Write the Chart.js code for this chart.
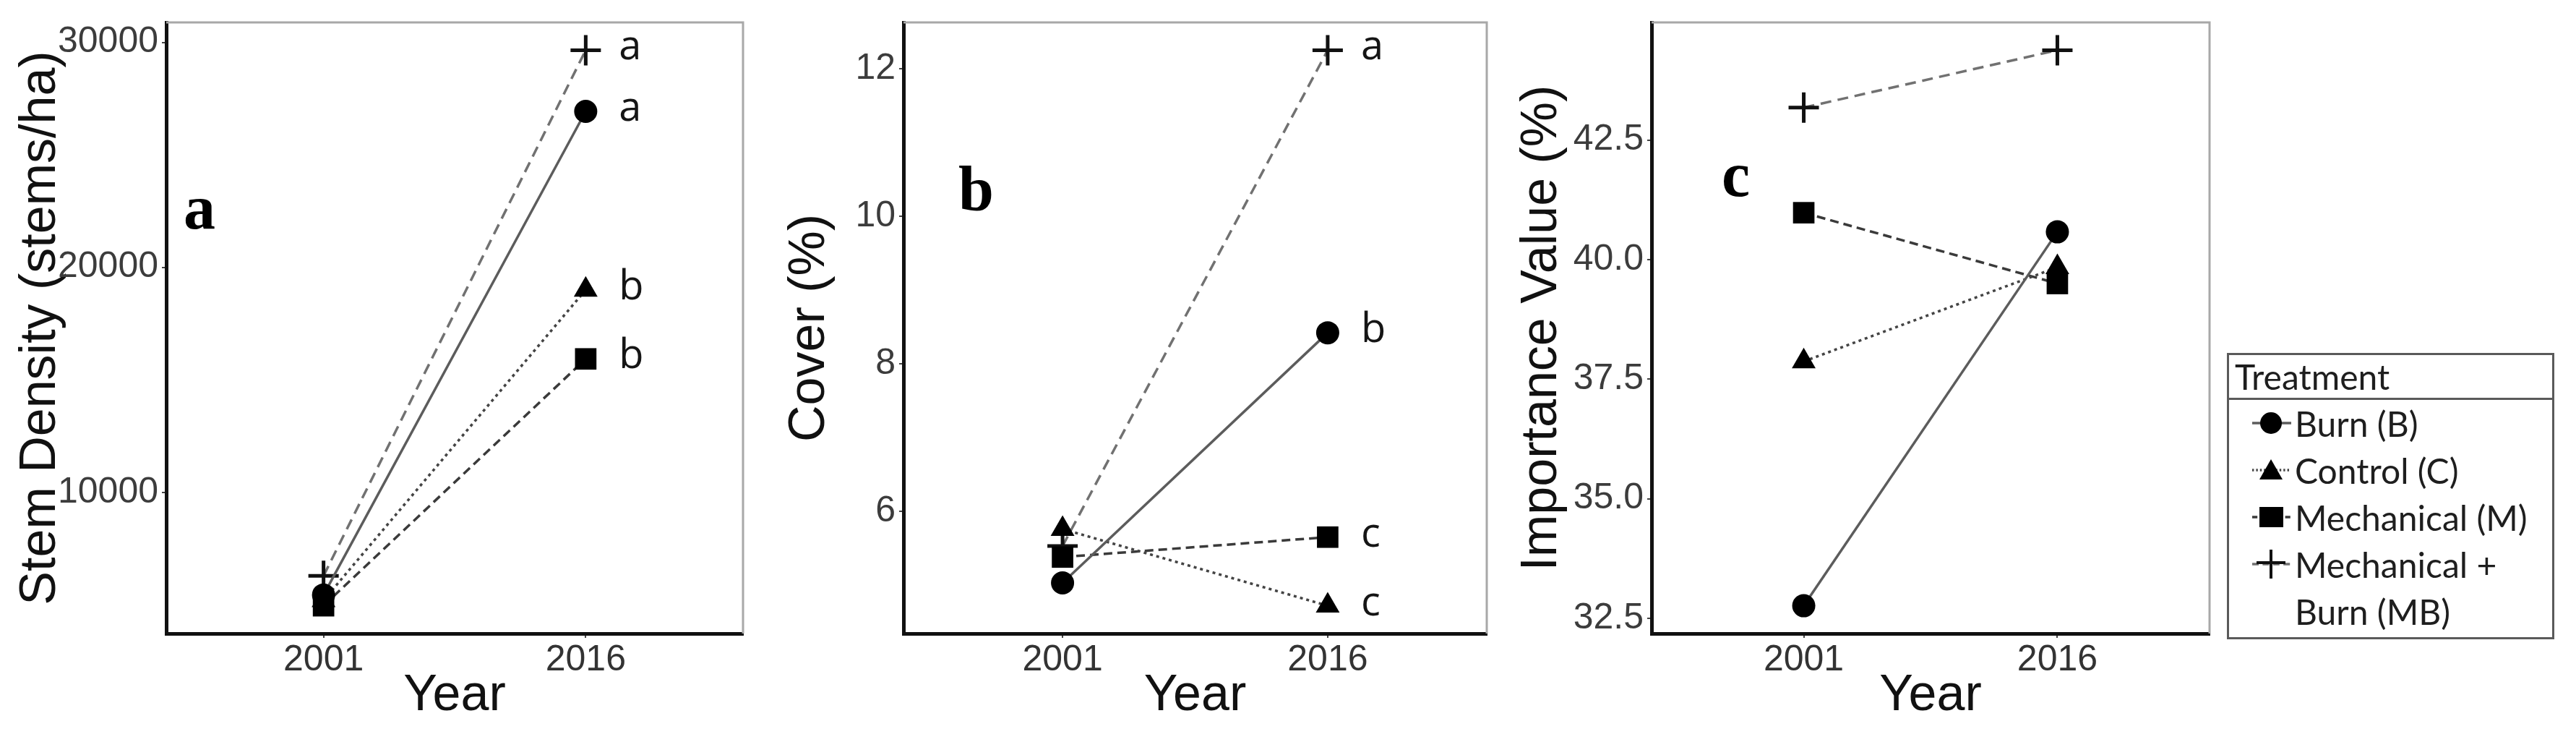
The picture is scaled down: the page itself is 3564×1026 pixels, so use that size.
<!DOCTYPE html>
<html>
<head>
<meta charset="utf-8">
<script src="https://cdn.jsdelivr.net/npm/chart.js@4.4.1/dist/chart.umd.min.js"></script>
<style>
  html, body { margin: 0; padding: 0; background: #fff; }
  body { width: 3564px; height: 1026px; position: relative; overflow: hidden; }
  canvas { position: absolute; top: 0; }
  #stemChart { left: 0; }
  #coverChart { left: 1060px; }
  #ivChart { left: 2090px; }
  #legend {
    position: absolute; left: 3081px; top: 488px;
    width: 447px; height: 390px;
    border: 3px solid #5a5a5a;
    font-family: Lato, 'Open Sans', sans-serif; color: #1e1e1e;
  }
  #legend .title {
    height: 59px; line-height: 59px; font-size: 48px;
    padding-left: 8px; border-bottom: 3px solid #5a5a5a;
  }
  #legend .item {
    position: relative; padding-left: 91px;
    font-size: 48px; line-height: 65px; white-space: pre-line;
  }
  #legend svg { position: absolute; left: 32px; top: 12px; }
</style>
</head>
<body>
<canvas id="stemChart" width="1060" height="1026"></canvas>
<canvas id="coverChart" width="1030" height="1026"></canvas>
<canvas id="ivChart" width="1000" height="1026"></canvas>
<div id="legend"><div class="title">Treatment</div></div>

<script>
// years and treatments
const years = [2001, 2016];
const treatments = ['Burn (B)', 'Control (C)', 'Mechanical (M)', 'Mechanical + Burn (MB)'];

// (a) stem density, stems/ha
const stemBurn = [5440, 26930];
const stemControl = [5200, 19000];
const stemMech = [4960, 15930];
const stemMB = [6290, 29650];
const stemLetters = ['a', 'b', 'b', 'a'];
const stemTicks = [10000, 20000, 30000];

// (b) cover, %
const coverBurn = [5.03, 8.42];
const coverControl = [5.76, 4.72];
const coverMech = [5.38, 5.65];
const coverMB = [5.53, 12.25];
const coverLetters = ['b', 'c', 'c', 'a'];
const coverTicks = [6, 8, 10, 12];

// (c) importance value, %
const ivBurn = [32.76, 40.58];
const ivControl = [37.87, 39.84];
const ivMech = [40.98, 39.50];
const ivMB = [43.18, 44.38];
const ivTicks = [32.5, 35.0, 37.5, 40.0, 42.5];

// one look per treatment
const looks = [
  { shape: 'circle',   radius: 16, dash: [],       color: '#5c5c5c' },
  { shape: 'triangle', radius: 19, dash: [4, 5],   color: '#444' },
  { shape: 'rect',     radius: 21, dash: [12, 7],  color: '#3a3a3a' },
  { shape: 'cross',    radius: 21, dash: [15, 9],  color: '#717171' }
];

const sans = "'Liberation Sans', Arial, sans-serif";
const narrow = "'Liberation Sans Narrow', 'Arial Narrow', 'Liberation Sans', sans-serif";

function series(values, i) {
  const s = looks[i];
  return {
    label: treatments[i],
    data: years.map((yr, k) => ({ x: yr, y: values[k] })),
    borderColor: s.color,
    borderWidth: 3.5,
    borderDash: s.dash,
    pointStyle: s.shape,
    pointRadius: s.radius,
    pointBackgroundColor: '#000',
    pointBorderColor: '#111',
    pointBorderWidth: s.shape === 'cross' ? 5 : 0,
    tension: 0,
    fill: false
  };
}

// ggplot-like 5% expansion
function range(sets) {
  const all = sets.flat();
  const lo = Math.min(...all), hi = Math.max(...all);
  const pad = (hi - lo) * 0.05;
  return { min: lo - pad, max: hi + pad };
}

// grey top/right border of the panel
const frame = {
  id: 'frame',
  beforeDatasetsDraw(chart) {
    const { ctx, chartArea: a } = chart;
    ctx.save();
    ctx.strokeStyle = '#a8a8a8';
    ctx.lineWidth = 3;
    ctx.beginPath();
    ctx.moveTo(a.left, a.top);
    ctx.lineTo(a.right, a.top);
    ctx.lineTo(a.right, a.bottom);
    ctx.stroke();
    ctx.restore();
  }
};

// panel letter and significance letters
const marks = {
  id: 'marks',
  afterDatasetsDraw(chart, args, o) {
    const { ctx, chartArea: a } = chart;
    ctx.save();
    ctx.fillStyle = '#000';
    ctx.font = "bold 88px 'Liberation Serif', 'Times New Roman', serif";
    ctx.textAlign = 'left';
    ctx.textBaseline = 'alphabetic';
    ctx.fillText(o.letter, a.left + o.dx, a.top + o.dy);
    if (o.sig) {
      ctx.font = "56px 'Open Sans', sans-serif";
      ctx.textBaseline = 'middle';
      ctx.fillStyle = '#151515';
      o.sig.forEach((t, i) => {
        const pt = chart.getDatasetMeta(i).data[1];
        ctx.fillText(t, pt.x + 46, pt.y - 3);
      });
    }
    ctx.restore();
  }
};

function panel(id, sets, ticks, title, o) {
  const r = range(sets);
  const gap = (years[1] - years[0]) * 0.6;
  return new Chart(document.getElementById(id), {
    type: 'line',
    data: { datasets: sets.map(series) },
    options: {
      responsive: false,
      animation: false,
      devicePixelRatio: 1,
      layout: { padding: { top: 31, right: o.right, bottom: 0, left: 0 } },
      plugins: {
        legend: { display: false },
        tooltip: { enabled: false },
        marks: { letter: o.letter, dx: o.dx, dy: o.dy, sig: o.sig }
      },
      scales: {
        x: {
          type: 'linear',
          min: years[0] - gap,
          max: years[1] + gap,
          afterBuildTicks: s => { s.ticks = years.map(v => ({ value: v })); },
          afterFit: s => { s.height = 150; s.paddingLeft = 0; s.paddingRight = 0; },
          ticks: { callback: v => String(v), font: { family: narrow, size: 50 }, color: '#333', padding: 1, maxRotation: 0 },
          grid: { drawOnChartArea: false, drawTicks: true, tickLength: 6, color: '#444', lineWidth: 2 },
          border: { color: '#111', width: 5 },
          title: { display: true, text: 'Year', color: '#111', font: { family: sans, size: 70 }, padding: { top: 0, bottom: 21 } }
        },
        y: {
          min: r.min,
          max: r.max,
          afterBuildTicks: s => { s.ticks = ticks.map(v => ({ value: v })); },
          afterFit: s => { s.width = o.yw; s.paddingTop = 0; s.paddingBottom = 0; },
          ticks: { callback: o.fmt, font: { family: narrow, size: 50 }, color: '#3c3c3c', padding: 5 },
          grid: { drawOnChartArea: false, drawTicks: true, tickLength: 6, color: '#444', lineWidth: 2 },
          border: { color: '#111', width: 5 },
          title: { display: true, text: title, color: '#111', font: { family: sans, size: 70 }, padding: { top: o.tp, bottom: 0 } }
        }
      }
    },
    plugins: [frame, marks]
  });
}

panel('stemChart', [stemBurn, stemControl, stemMech, stemMB], stemTicks, 'Stem Density (stems/ha)',
  { yw: 230, right: 32, tp: 15, letter: 'a', dx: 24, dy: 285, sig: stemLetters, fmt: v => String(v) });

panel('coverChart', [coverBurn, coverControl, coverMech, coverMB], coverTicks, 'Cover (%)',
  { yw: 190, right: 33, tp: 19, letter: 'b', dx: 76, dy: 260, sig: coverLetters, fmt: v => String(v) });

panel('ivChart', [ivBurn, ivControl, ivMech, ivMB], ivTicks, 'Importance Value (%)',
  { yw: 195, right: 33, tp: 2, letter: 'c', dx: 97, dy: 240, sig: null, fmt: v => v.toFixed(1) });

// legend
const symbols = [
  '<circle cx="26" cy="20" r="15" fill="#000"/>',
  '<polygon points="26,5 42,33 10,33" fill="#000"/>',
  '<rect x="10" y="6" width="33" height="28" fill="#000"/>',
  '<path d="M26 0 V40 M6 18 H46" stroke="#111" stroke-width="4"/>'
];
const legend = document.getElementById('legend');
treatments.forEach((name, i) => {
  const s = looks[i];
  const item = document.createElement('div');
  item.className = 'item';
  item.textContent = name.replace('+ ', '+\n');
  item.insertAdjacentHTML('afterbegin',
    '<svg width="54" height="40" viewBox="0 0 54 40">' +
    '<line x1="0" y1="20" x2="54" y2="20" stroke="' + s.color + '" stroke-width="3.5"' +
    (s.dash.length ? ' stroke-dasharray="' + s.dash.map(d => d * 0.6).join(' ') + '"' : '') + '/>' +
    symbols[i] + '</svg>');
  legend.appendChild(item);
});
</script>
</body>
</html>
